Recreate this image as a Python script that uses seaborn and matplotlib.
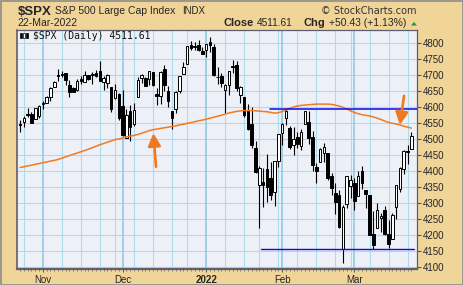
import matplotlib
matplotlib.use("Agg")
import matplotlib.pyplot as plt
import seaborn as sns
import pandas as pd
import numpy as np

# ---------------- data ----------------
oct_days = [22, 25, 26, 27, 28, 29]
nov_days = [1, 2, 3, 4, 5, 8, 9, 10, 11, 12, 15, 16, 17, 18, 19, 22, 23, 24, 26, 29, 30]
dec_days = [1, 2, 3, 6, 7, 8, 9, 10, 13, 14, 15, 16, 17, 20, 21, 22, 23, 27, 28, 29, 30, 31]
jan_days = [3, 4, 5, 6, 7, 10, 11, 12, 13, 14, 18, 19, 20, 21, 24, 25, 26, 27, 28, 31]
feb_days = [1, 2, 3, 4, 7, 8, 9, 10, 11, 14, 15, 16, 17, 18, 22, 23, 24, 25, 28]
mar_days = [1, 2, 3, 4, 7, 8, 9, 10, 11, 14, 15, 16, 17, 18, 21, 22]

opens = [4546.1, 4553.7, 4578.7, 4580.2, 4562.8, 4572.9,
         4610.6, 4613.3, 4630.7, 4662.9, 4699.3, 4701.5, 4707.3, 4670.3, 4659.4, 4655.2,
         4689.3, 4679.4, 4701.5, 4700.7, 4708.4, 4712.0, 4678.5, 4675.8, 4664.6, 4628.8, 4640.2,
         4602.8, 4504.7, 4589.5, 4548.4, 4632.0, 4690.9, 4691.0, 4687.6, 4710.3, 4642.0, 4636.5,
         4719.1, 4652.5, 4587.9, 4595.0, 4650.4, 4704.0, 4734.0, 4795.5, 4788.6, 4794.2, 4775.2,
         4778.1, 4804.5, 4788.0, 4693.4, 4697.7, 4655.3, 4669.1, 4728.6, 4733.6, 4638.0, 4632.2,
         4588.0, 4547.4, 4471.4, 4356.3, 4366.6, 4408.4, 4380.6, 4336.2, 4431.8,
         4519.6, 4566.4, 4535.4, 4482.8, 4505.8, 4480.0, 4547.0, 4553.2, 4506.3, 4412.6, 4429.3,
         4455.8, 4456.1, 4385.0, 4332.7, 4324.9, 4155.8, 4298.4, 4354.2,
         4363.1, 4322.6, 4401.3, 4342.1, 4327.0, 4202.7, 4223.1, 4252.6, 4279.5, 4202.8, 4188.8,
         4288.1, 4345.1, 4407.3, 4462.4, 4469.1]
highs = [4559.7, 4572.6, 4598.5, 4584.6, 4597.6, 4608.1,
         4620.3, 4635.2, 4663.5, 4683.0, 4718.5, 4714.9, 4708.5, 4684.9, 4664.6, 4688.5,
         4697.4, 4714.9, 4701.5, 4708.8, 4717.8, 4743.8, 4699.4, 4702.9, 4664.6, 4672.9, 4646.0,
         4652.9, 4595.5, 4608.0, 4612.6, 4694.0, 4705.1, 4695.3, 4713.6, 4710.3, 4660.5, 4712.6,
         4732.0, 4666.7, 4587.9, 4651.1, 4697.7, 4740.7, 4791.5, 4807.0, 4804.1, 4808.9, 4787.0,
         4796.6, 4818.6, 4797.7, 4725.0, 4708.0, 4673.0, 4714.1, 4748.8, 4744.1, 4665.1, 4632.2,
         4611.6, 4602.1, 4494.5, 4417.4, 4411.0, 4453.2, 4428.7, 4432.7, 4516.9,
         4550.5, 4595.3, 4542.9, 4539.7, 4521.9, 4531.3, 4590.0, 4588.9, 4526.3, 4426.2, 4472.8,
         4489.6, 4456.1, 4394.8, 4362.1, 4341.5, 4294.7, 4385.3, 4388.8,
         4378.5, 4401.5, 4416.8, 4342.1, 4327.0, 4276.9, 4299.4, 4268.3, 4291.2, 4247.6, 4271.1,
         4358.0, 4412.7, 4465.4, 4481.8, 4522.0]
lows = [4524.0, 4537.4, 4569.2, 4551.7, 4562.8, 4567.6,
        4595.1, 4613.3, 4621.2, 4662.6, 4681.3, 4694.4, 4670.9, 4630.9, 4648.3, 4650.8,
        4672.9, 4679.4, 4684.4, 4672.8, 4694.2, 4682.2, 4652.7, 4659.9, 4585.4, 4625.3, 4560.0,
        4510.3, 4504.7, 4495.1, 4540.5, 4632.0, 4674.5, 4666.0, 4670.2, 4667.6, 4606.5, 4611.2,
        4651.9, 4600.2, 4531.1, 4583.2, 4645.5, 4704.0, 4734.0, 4780.0, 4778.1, 4775.3, 4765.8,
        4758.2, 4774.3, 4699.4, 4671.3, 4662.7, 4582.2, 4638.3, 4706.7, 4650.3, 4614.8, 4568.7,
        4530.2, 4471.5, 4395.3, 4222.6, 4287.1, 4304.8, 4309.5, 4292.5, 4414.0,
        4483.5, 4544.3, 4470.4, 4451.5, 4471.5, 4465.4, 4547.0, 4484.3, 4401.4, 4364.8, 4429.3,
        4429.7, 4373.8, 4327.2, 4267.1, 4221.5, 4114.7, 4286.8, 4315.1,
        4279.5, 4322.6, 4345.6, 4285.0, 4199.9, 4157.9, 4223.1, 4209.8, 4200.5, 4161.7, 4187.9,
        4252.0, 4335.7, 4390.6, 4424.3, 4469.1]
closes = [4544.9, 4566.5, 4574.8, 4551.7, 4596.4, 4605.4,
          4613.7, 4630.7, 4660.6, 4680.1, 4697.5, 4701.7, 4685.3, 4646.7, 4649.3, 4682.9,
          4682.8, 4700.9, 4688.7, 4704.5, 4698.0, 4682.9, 4690.7, 4701.5, 4594.6, 4655.3, 4567.0,
          4513.0, 4577.1, 4538.4, 4591.7, 4686.8, 4701.2, 4667.5, 4712.0, 4669.0, 4634.1, 4709.9,
          4668.7, 4620.6, 4568.0, 4649.2, 4696.6, 4725.8, 4791.2, 4786.4, 4793.1, 4778.7, 4766.2,
          4796.6, 4793.5, 4700.6, 4696.1, 4677.0, 4670.3, 4713.1, 4726.4, 4659.0, 4662.9, 4577.1,
          4532.8, 4482.7, 4397.9, 4410.1, 4356.5, 4349.9, 4326.5, 4431.9, 4515.6,
          4546.5, 4589.4, 4477.4, 4500.5, 4483.9, 4521.5, 4587.2, 4504.1, 4418.6, 4401.7, 4471.1,
          4475.0, 4380.3, 4348.9, 4304.8, 4225.5, 4288.7, 4384.7, 4373.9,
          4306.3, 4386.5, 4363.5, 4328.9, 4201.1, 4170.7, 4277.9, 4259.5, 4204.3, 4173.1, 4262.5,
          4357.9, 4411.7, 4463.1, 4461.2, 4511.6]
ma_values = [4412, 4414, 4417, 4419, 4422, 4424, 4427, 4429, 4432, 4434,
             4437, 4441, 4445, 4449, 4453, 4457, 4461, 4465, 4469, 4474,
             4478, 4483, 4487, 4491, 4495, 4499, 4501, 4504, 4507, 4510,
             4512, 4515, 4519, 4523, 4527, 4530, 4532, 4534, 4536, 4538,
             4540, 4542, 4545, 4547, 4550, 4552, 4555, 4558, 4560, 4563,
             4566, 4569, 4572, 4575, 4579, 4582, 4585, 4587, 4589, 4590,
             4590, 4590, 4589, 4588, 4587, 4586, 4584, 4582, 4583, 4587,
             4592, 4597, 4601, 4604, 4606, 4607, 4608, 4609, 4610, 4610,
             4610, 4610, 4609, 4607, 4604, 4600, 4595, 4589, 4584, 4580,
             4577, 4575, 4573, 4570, 4566, 4562, 4557, 4553, 4550, 4548,
             4545, 4541, 4538, 4535]

month_labels = ["Nov", "Dec", "2022", "Feb", "Mar"]
y_ticks = [4100, 4150, 4200, 4250, 4300, 4350, 4400, 4450, 4500, 4550, 4600, 4650, 4700, 4750, 4800]
resistance_level = 4595
support_level = 4157

# ---------------- build frame ----------------
dates = ([pd.Timestamp(2021, 10, d) for d in oct_days] + [pd.Timestamp(2021, 11, d) for d in nov_days] +
         [pd.Timestamp(2021, 12, d) for d in dec_days] + [pd.Timestamp(2022, 1, d) for d in jan_days] +
         [pd.Timestamp(2022, 2, d) for d in feb_days] + [pd.Timestamp(2022, 3, d) for d in mar_days])
df = pd.DataFrame({"date": dates, "open": opens, "high": highs, "low": lows,
                   "close": closes, "ma": ma_values})
df["idx"] = np.arange(len(df))

month_start = [i for i in range(1, len(df)) if df.date[i].month != df.date[i - 1].month]
week_start = [i for i in range(1, len(df)) if df.date[i].isocalendar()[1] != df.date[i - 1].isocalendar()[1]]

# ---------------- style ----------------
sns.set_style("white")
plt.rcParams["font.family"] = ["Liberation Sans", "DejaVu Sans"]

W, H = 464, 285
fig = plt.figure(figsize=(W / 100, H / 100), dpi=100)
fig.patch.set_facecolor("#F1D497")

L, R, T, B = 17, 417, 30, 269
ax = fig.add_axes([L / W, 1 - B / H, (R - L) / W, (B - T) / H])
ax.set_facecolor("#EEF0F8")

# grid
for v in y_ticks:
    ax.axhline(v, color="#ACDCEA", lw=0.8, zorder=0)
for i in week_start:
    if i not in month_start:
        ax.axvline(i, color="#ACDCEA", lw=0.8, zorder=0)
for i in month_start:
    ax.axvline(i, color="#8FCBE2", lw=1.2, zorder=0)

# candles
up = df.close >= df.open
ax.vlines(df.idx, df.low, df.high, color="black", lw=0.8, zorder=2)
bottoms = np.minimum(df.open, df.close)
heights = np.maximum(np.abs(df.close - df.open), 2.0)
ax.bar(df.idx[up], heights[up], bottom=bottoms[up], width=0.68, color="white",
       edgecolor="black", linewidth=0.7, zorder=3)
ax.bar(df.idx[~up], heights[~up], bottom=bottoms[~up], width=0.68, color="black",
       edgecolor="black", linewidth=0.7, zorder=3)

# moving average
sns.lineplot(data=df, x="idx", y="ma", ax=ax, color="#F27A1F", lw=1.1, zorder=4, legend=False)

# horizontal trend lines
ax.plot([65.8, 104.6], [resistance_level, resistance_level], color="#0A0AE6", lw=1.1, zorder=5)
ax.plot([63.5, 103.7], [support_level, support_level], color="#0A0AE6", lw=1.0, zorder=5)

# arrows
arrow_kw = dict(arrowstyle="-|>,head_width=0.38,head_length=0.75", color="#F07820", lw=1.9,
                shrinkA=0, shrinkB=0, mutation_scale=10)
ax.annotate("", xy=(35.1, 4519), xytext=(35.8, 4414), arrowprops=arrow_kw, zorder=6)
ax.annotate("", xy=(100.0, 4545), xytext=(101.1, 4636), arrowprops=arrow_kw, zorder=6)

# axes
ax.set_xlim(-0.8, 104.5)
ax.set_ylim(4094.7, 4841.6)
ax.yaxis.tick_right()
ax.set_yticks(y_ticks)
ax.set_yticklabels([str(v) for v in y_ticks], fontsize=7)
ax.tick_params(axis="y", length=3, width=0.8, color="#555566", pad=1, right=True, left=False)
ax.set_xticks(month_start)
ax.set_xticklabels(month_labels, fontsize=7)
for lab in ax.get_xticklabels():
    if lab.get_text() == "2022":
        lab.set_fontweight("bold")
ax.set_xticks(df.idx, minor=True)
ax.tick_params(axis="x", which="major", length=2.5, width=0.7, color="#555566", pad=1.5, bottom=True)
ax.tick_params(axis="x", which="minor", length=1.5, width=0.5, color="#555566", bottom=True)
ax.set_xlabel("")
ax.set_ylabel("")
for s in ax.spines.values():
    s.set_color("#5E5E6E")
    s.set_linewidth(0.9)
ax.spines["bottom"].set_linewidth(1.6)
ax.spines["left"].set_linewidth(1.2)

# legend label inside
ax.text(33 / W, 1 - 39 / H, "$SPX (Daily) 4511.61", transform=fig.transFigure,
        fontsize=7, family="DejaVu Sans Mono", va="baseline", ha="left", color="#111111")
# tiny candle icon
from matplotlib.patches import Rectangle
for (x0, y0, h, fill) in [(20.5, 33.5, 4.5, "black"), (23.5, 32.5, 5.5, "white"), (26.5, 33.0, 5.0, "black")]:
    fig.patches.append(Rectangle((x0 / W, 1 - (y0 + h) / H), 2 / W, h / H, transform=fig.transFigure,
                                 facecolor=fill, edgecolor="black", lw=0.5, zorder=10))

# header
def ftext(x, y, s, **kw):
    fig.text(x / W, 1 - y / H, s, va="baseline", **kw)

ftext(18, 15, "$SPX", fontsize=9.5, fontweight="bold")
ftext(55, 13.5, "S&P 500 Large Cap Index", fontsize=7.5)
ftext(182, 13.5, "INDX", fontsize=7)
ftext(417, 13.5, "\u00a9 StockCharts.com", fontsize=7, ha="right", family="DejaVu Sans", color="#333333")
ftext(17, 26.5, "22-Mar-2022", fontsize=7.5)
ftext(224, 26.5, "Close", fontsize=8, fontweight="bold")
ftext(257, 26.5, "4511.61", fontsize=7.3)
ftext(304, 26.5, "Chg", fontsize=8, fontweight="bold")
ftext(329, 26.5, "+50.43 (+1.13%)", fontsize=7.5)
fig.patches.append(plt.Polygon([[411 / W, 1 - 25.5 / H], [417 / W, 1 - 25.5 / H], [414 / W, 1 - 22 / H]],
                               closed=True, transform=fig.transFigure, facecolor="#1F9A2E",
                               edgecolor="none", zorder=10))

# outer border
fig.patches.append(Rectangle((0.5 / W, 0.5 / H), (W - 1) / W, (H - 1) / H, transform=fig.transFigure,
                             facecolor="none", edgecolor="#8C8C8C", lw=1.2, zorder=20))

fig.savefig("out.png", dpi=100, facecolor=fig.get_facecolor())
